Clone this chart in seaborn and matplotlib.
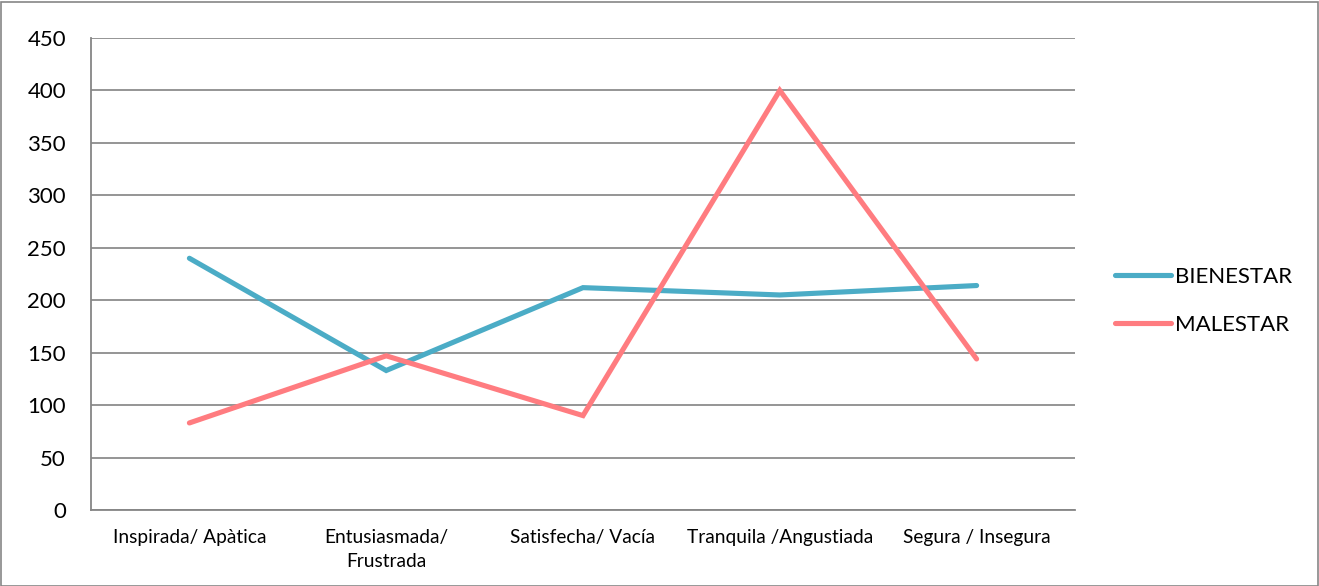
import matplotlib
matplotlib.use("Agg")
import matplotlib.pyplot as plt
import seaborn as sns
import pandas as pd
from matplotlib.patches import Rectangle
from matplotlib.lines import Line2D

categories = ["Inspirada/ Apàtica", "Entusiasmada/\nFrustrada", "Satisfecha/ Vacía",
              "Tranquila /Angustiada", "Segura / Insegura"]
bienestar = [240, 133, 212, 205, 214]
malestar = [83, 147, 90, 400, 144]
series_names = ["BIENESTAR", "MALESTAR"]
yticks = [0, 50, 100, 150, 200, 250, 300, 350, 400, 450]

df = pd.DataFrame({
    "cat": list(range(len(categories))) * 2,
    "value": bienestar + malestar,
    "serie": [series_names[0]] * len(categories) + [series_names[1]] * len(categories),
})

sns.set_style("white")
plt.rcParams['font.family'] = ['Lato', 'DejaVu Sans']
plt.rcParams['text.color'] = 'black'
plt.rcParams['xtick.color'] = 'black'
plt.rcParams['ytick.color'] = 'black'

fig = plt.figure(figsize=(13.19, 5.86), dpi=100)
ax = fig.add_axes([91/1319, 76/586, (1075-91)/1319, (510-38)/586])

palette = {"BIENESTAR": "#4BACC6", "MALESTAR": "#FF7C80"}
sns.lineplot(data=df, x="cat", y="value", hue="serie", palette=palette,
             linewidth=3.7, ax=ax, legend=False, solid_capstyle="round",
             solid_joinstyle="miter")

ax.set_xlim(-0.5, len(categories) - 0.5)
ax.set_ylim(0, 450)
ax.set_yticks(yticks)
ax.set_yticklabels([str(v) for v in yticks], fontsize=16)
ax.set_xticks(range(len(categories)))
ax.set_xticklabels(categories, fontsize=13.8, linespacing=1.45)
ax.tick_params(axis="x", which="major", length=0, pad=14)
ax.set_xticks([i - 0.5 for i in range(len(categories) + 1)], minor=True)
ax.tick_params(axis="x", which="minor", length=7, width=1.2, color="#868686", direction="out")
ax.tick_params(axis="y", length=8, width=1.2, color="#868686", direction="out", pad=10)
ax.set_xlabel("")
ax.set_ylabel("")

ax.grid(axis="y", color="#8c8c8c", linewidth=1.3)
ax.set_axisbelow(True)
for s in ["top", "right"]:
    ax.spines[s].set_visible(False)
for s in ["left", "bottom"]:
    ax.spines[s].set_color("#868686")
    ax.spines[s].set_linewidth(1.3)

handles = [Line2D([0], [0], color=palette[n], lw=3.7, solid_capstyle="round") for n in series_names]
fig.legend(handles, series_names, loc="center left", bbox_to_anchor=(1095/1319, 1 - 301/586),
           frameon=False, fontsize=16, handlelength=2.5, handletextpad=0.2, labelspacing=1.25)

fig.patches.append(Rectangle((0.5/1319, 0.5/586), 1 - 2/1319, 1 - 2/586, transform=fig.transFigure,
                             fill=False, edgecolor="#868686", linewidth=1.2))

fig.savefig("out.png", dpi=100)
